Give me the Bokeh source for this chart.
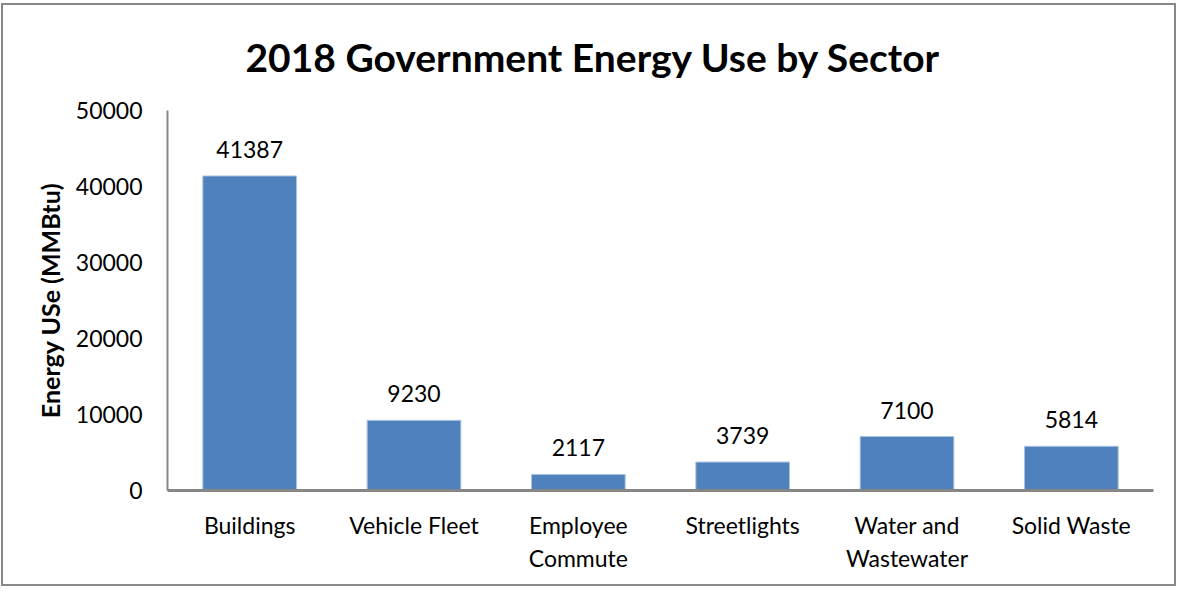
from bokeh.plotting import figure
from bokeh.models import (FactorRange, Range1d, ColumnDataSource, LabelSet, Title,
                          FixedTicker)
from bokeh.core.properties import value
from bokeh.embed import file_html
from bokeh.resources import INLINE

# ---- data ----
categories = ["Buildings", "Vehicle Fleet", "Employee\nCommute", "Streetlights",
              "Water and\nWastewater", "Solid Waste"]
energy_use = [41387, 9230, 2117, 3739, 7100, 5814]
y_ticks = [0, 10000, 20000, 30000, 40000, 50000]
title_text = "2018 Government Energy Use by Sector"
y_label = "Energy USe (MMBtu)"

FONT = "Lato"
BAR = "#4F81BD"
AXIS = "#868686"

source = ColumnDataSource(dict(cat=categories, val=energy_use,
                               txt=[str(v) for v in energy_use]))

p = figure(width=1175, height=583, output_backend="svg", toolbar_location=None,
           x_range=FactorRange(*categories, range_padding=0),
           y_range=Range1d(0, 50000),
           min_border_left=164, min_border_right=25,
           min_border_top=105, min_border_bottom=98,
           styles={"border": "2px solid #888888", "margin-top": "3px",
                   "margin-left": "1px"})

p.vbar(x="cat", top="val", width=0.57, source=source,
       fill_color=BAR, line_color="#A9C2E0", line_width=1)

p.add_layout(LabelSet(x="cat", y="val", text="txt", source=source,
                      y_offset=18, text_align="center", text_baseline="alphabetic",
                      text_font=value(FONT), text_font_size="23px",
                      text_color="#000000"))

p.add_layout(Title(text=title_text, align="left", offset=78, standoff=57,
                   vertical_align="top",
                   text_font=FONT, text_font_style="bold", text_font_size="39px",
                   text_color="#000000"), "above")

p.grid.visible = False
p.outline_line_color = None
p.background_fill_color = "white"
p.border_fill_color = "white"

# y axis
ya = p.yaxis[0]
ya.ticker = FixedTicker(ticks=y_ticks)
ya.axis_line_color = AXIS
ya.axis_line_width = 2
ya.major_tick_line_color = None
ya.minor_tick_line_color = None
ya.major_tick_out = 0
ya.major_tick_in = 0
ya.major_label_standoff = 25
ya.major_label_text_font = FONT
ya.major_label_text_font_size = "23px"
ya.major_label_text_color = "#000000"
ya.axis_label = y_label
ya.axis_label_text_font = FONT
ya.axis_label_text_font_style = "bold"
ya.axis_label_text_font_size = "25px"
ya.axis_label_text_color = "#000000"
ya.axis_label_standoff = 8

# x axis
xa = p.xaxis[0]
xa.axis_line_color = AXIS
xa.axis_line_width = 3
xa.major_tick_line_color = None
xa.minor_tick_line_color = None
xa.major_tick_out = 0
xa.major_tick_in = 0
xa.major_label_standoff = 20
xa.major_label_text_font = FONT
xa.major_label_text_font_size = "23px"
xa.major_label_text_color = "#000000"
xa.major_label_text_line_height = 1.2

open("out.html", "w").write(file_html(p, INLINE))
